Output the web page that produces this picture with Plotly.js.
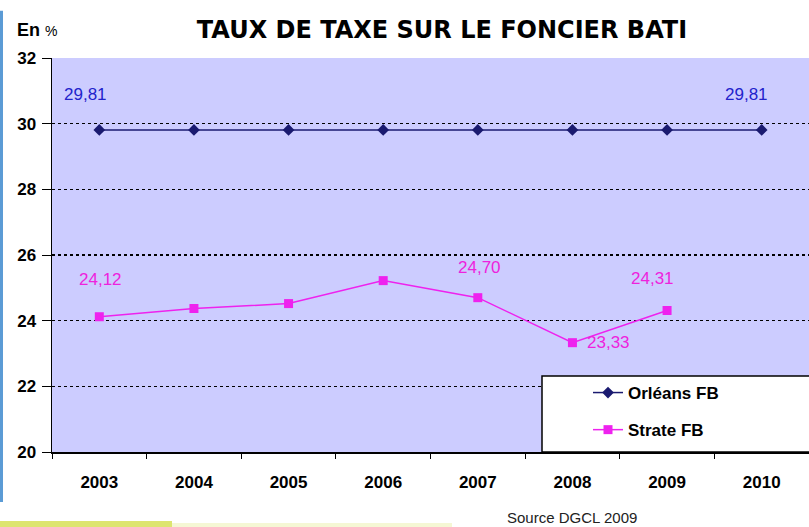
<!DOCTYPE html>
<html><head><meta charset="utf-8">
<script src="https://cdn.plot.ly/plotly-3.0.1.min.js"></script>
<style>body{margin:0;background:#fff}#c{width:809px;height:527px}</style>
</head><body><div id="c"></div>
<script>
const years = ['2003','2004','2005','2006','2007','2008','2009','2010'];
const orleans = [29.81,29.81,29.81,29.81,29.81,29.81,29.81,29.81];
const strateYears = ['2003','2004','2005','2006','2007','2008','2009'];
const strate = [24.12,24.37,24.52,25.22,24.70,23.33,24.31];

const orleansLabels = [{i:0,t:'29,81',dx:-14},{i:7,t:'29,81',dx:-15}];
const strateLabels = [{i:0,t:'24,12',dx:1,dy:37},{i:4,t:'24,70',dx:2,dy:30},{i:5,t:'23,33',dx:36,dy:0},{i:6,t:'24,31',dx:-15,dy:32}];

const F = 'Arial, Liberation Sans, sans-serif';
const ann = [];
orleansLabels.forEach(l=>ann.push({xref:'x',yref:'y',x:l.i,y:orleans[l.i],text:l.t,showarrow:false,xshift:l.dx,yshift:35,
  font:{family:F,size:17,color:'#2222cc'}}));
strateLabels.forEach(l=>ann.push({xref:'x',yref:'y',x:l.i,y:strate[l.i],text:l.t,showarrow:false,xshift:l.dx,yshift:l.dy,
  font:{family:F,size:17,color:'#ee22dd'}}));
ann.push({xref:'paper',yref:'paper',x:-37/757,y:1,yshift:28,xanchor:'left',yanchor:'middle',showarrow:false,
  text:'<b>En</b> <span style="font-size:14px">%</span>',font:{family:F,size:18,color:'#000'}});
ann.push({xref:'paper',yref:'paper',x:(505-52)/757,y:-0.14,xanchor:'left',yanchor:'top',showarrow:false,
  text:'Source DGCL 2009',font:{family:F,size:15,color:'#222'}});

const data = [
  {x:years,y:orleans,name:'Orléans FB',legendgroup:'a',type:'scatter',mode:'lines+markers',
   line:{color:'#1a1a70',width:1.5},marker:{symbol:'diamond',size:9,color:'#1a1a70'}},
  {x:strateYears,y:strate,name:'Strate FB',legendgroup:'b',type:'scatter',mode:'lines+markers',
   line:{color:'#ee22ee',width:1.5},marker:{symbol:'square',size:9,color:'#ee22ee'}}
];
const layout = {
  width:809,height:527,
  margin:{l:52,r:0,t:58,b:75},
  paper_bgcolor:'#ffffff',plot_bgcolor:'#ccccff',
  showlegend:true,
  title:{text:'<b>TAUX DE TAXE SUR LE FONCIER BATI</b>',x:442/809,xanchor:'center',y:1-30/527,yanchor:'middle',
    font:{family:'DejaVu Sans, sans-serif',size:24,color:'#000'}},
  xaxis:{type:'category',range:[-0.5,7.5],showgrid:false,showline:true,linecolor:'#000',linewidth:1.5,
    ticks:'outside',tickson:'boundaries',ticklen:5,tickcolor:'#000',ticklabelstandoff:14,
    tickfont:{family:F,size:17,color:'#000',weight:'bold'},fixedrange:true},
  yaxis:{range:[20,32],dtick:2,tick0:20,showline:true,linecolor:'#000',linewidth:1.5,
    ticks:'outside',ticklen:9,tickcolor:'#000',ticklabelstandoff:2,
    showgrid:true,gridcolor:'#000',gridwidth:1.5,griddash:'3px,3px',zeroline:false,
    tickfont:{family:F,size:17,color:'#000',weight:'bold'}},
  legend:{x:(588-52)/757,y:(452-375)/394,xanchor:'left',yanchor:'top',bgcolor:'rgba(0,0,0,0)',borderwidth:0,
    font:{family:F,size:17,color:'#000',weight:'bold'},tracegroupgap:12},
  shapes:[
    {type:'rect',xref:'paper',yref:'paper',x0:(542-52)/757,x1:1.01,y0:0,y1:(452-376)/394,
     fillcolor:'#ffffff',line:{color:'#000',width:1.5},layer:'above'},
    {type:'rect',xref:'paper',yref:'paper',x0:-52/757,x1:-49/757,y0:-50/394,y1:1.12,fillcolor:'#5b9bd5',line:{width:0}},
    {type:'rect',xref:'paper',yref:'paper',x0:-52/757,x1:120/757,y0:-75/394,y1:-69/394,fillcolor:'#d2dc40',opacity:0.75,line:{width:0}},
    {type:'rect',xref:'paper',yref:'paper',x0:120/757,x1:400/757,y0:-75/394,y1:-71/394,fillcolor:'#eef2b8',opacity:0.6,line:{width:0}}
  ],
  annotations:ann
};
Plotly.newPlot('c',data,layout,{displayModeBar:false,staticPlot:true});
</script></body></html>
